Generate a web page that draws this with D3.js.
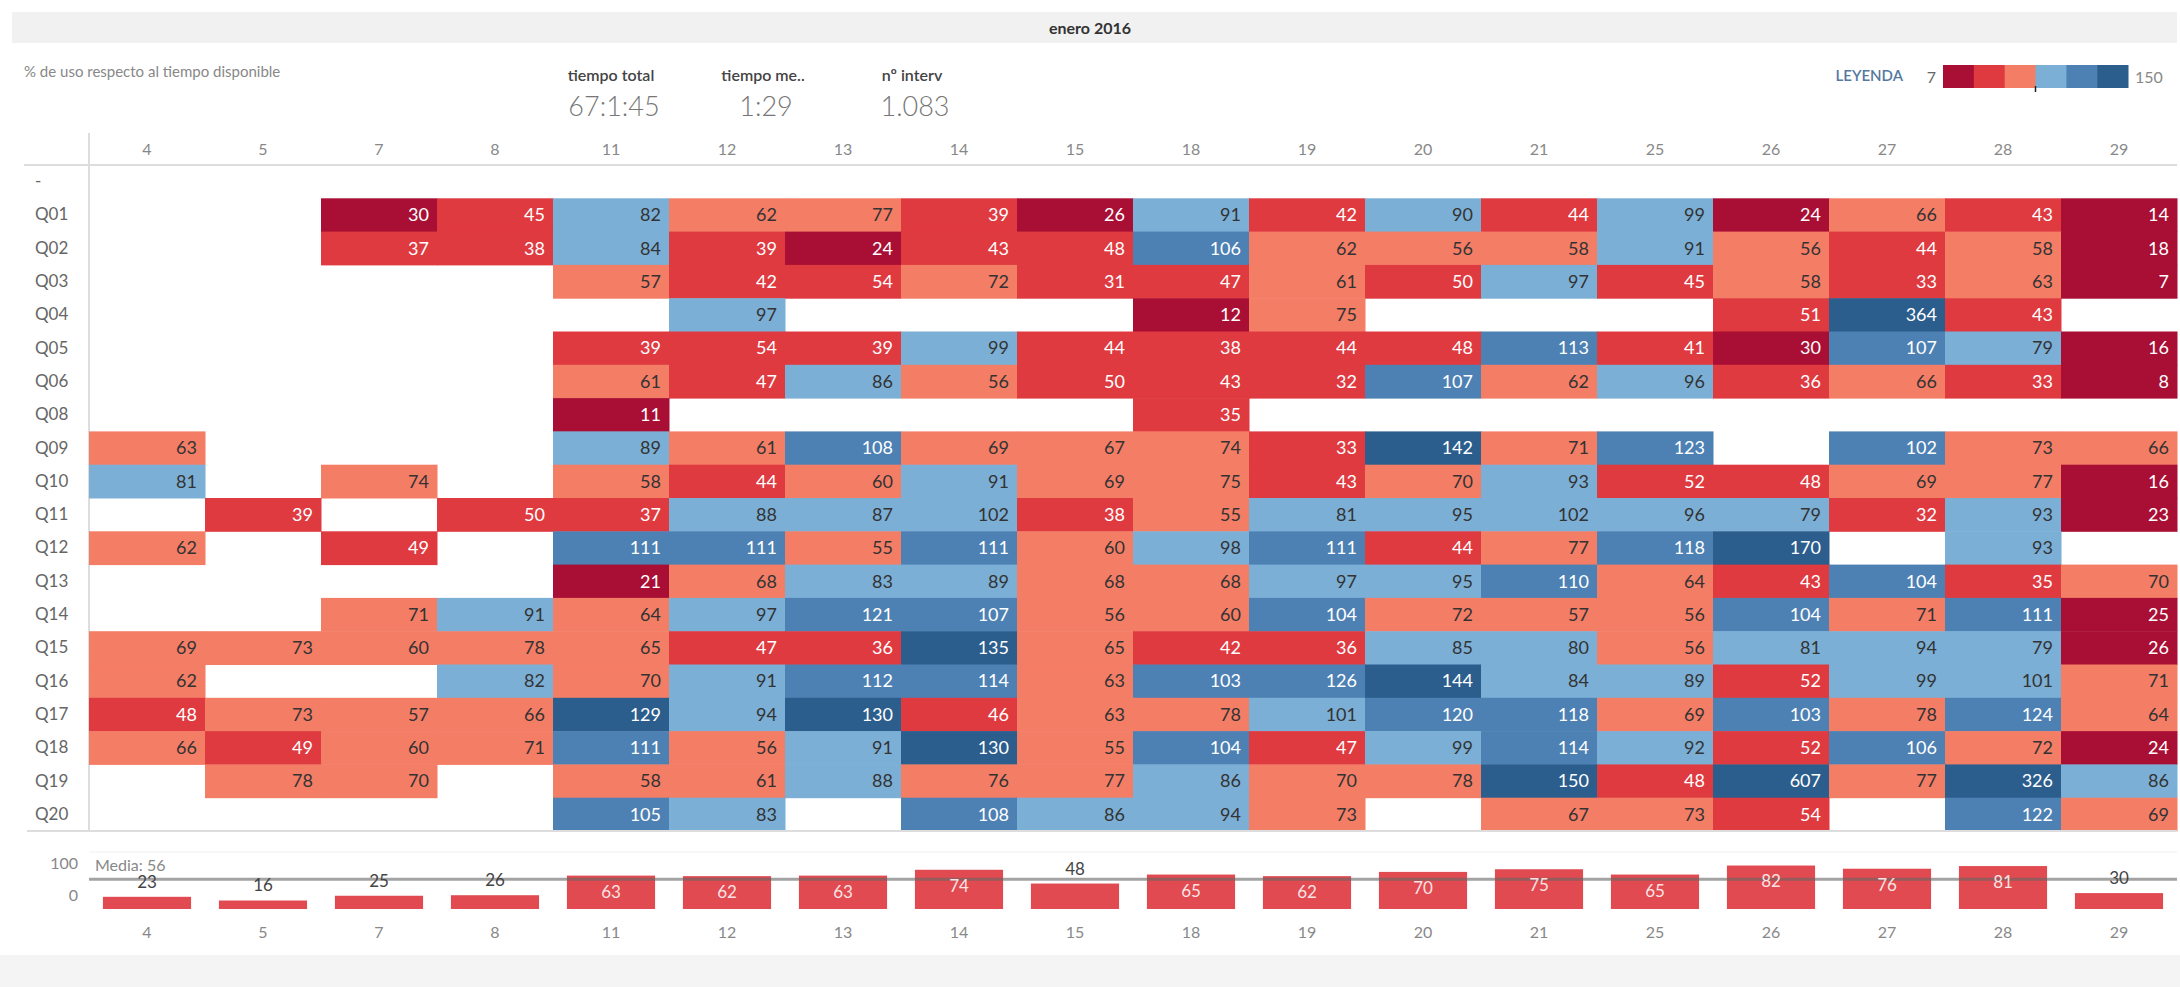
<!DOCTYPE html>
<html>
<head>
<meta charset="utf-8">
<script src="https://cdn.jsdelivr.net/npm/d3@7"></script>
<style>
  body { margin: 0; background: #fff; }
  svg { display: block; font-family: Lato, "Open Sans", sans-serif; }
  .axis path, .axis line { display: none; }
</style>
</head>
<body>
<svg id="chart" width="2180" height="987"></svg>
<script>
// columns (days of the month) and rows (questions)
const days = [4, 5, 7, 8, 11, 12, 13, 14, 15, 18, 19, 20, 21, 25, 26, 27, 28, 29];
const questions = ["-", "Q01", "Q02", "Q03", "Q04", "Q05", "Q06", "Q08", "Q09", "Q10",
  "Q11", "Q12", "Q13", "Q14", "Q15", "Q16", "Q17", "Q18", "Q19", "Q20"];

// % de uso per question and day (null = no data)
const rowDash = [];
const Q01 = [null, null, 30, 45, 82, 62, 77, 39, 26, 91, 42, 90, 44, 99, 24, 66, 43, 14];
const Q02 = [null, null, 37, 38, 84, 39, 24, 43, 48, 106, 62, 56, 58, 91, 56, 44, 58, 18];
const Q03 = [null, null, null, null, 57, 42, 54, 72, 31, 47, 61, 50, 97, 45, 58, 33, 63, 7];
const Q04 = [null, null, null, null, null, 97, null, null, null, 12, 75, null, null, null, 51, 364, 43, null];
const Q05 = [null, null, null, null, 39, 54, 39, 99, 44, 38, 44, 48, 113, 41, 30, 107, 79, 16];
const Q06 = [null, null, null, null, 61, 47, 86, 56, 50, 43, 32, 107, 62, 96, 36, 66, 33, 8];
const Q08 = [null, null, null, null, 11, null, null, null, null, 35, null, null, null, null, null, null, null, null];
const Q09 = [63, null, null, null, 89, 61, 108, 69, 67, 74, 33, 142, 71, 123, null, 102.4, 73, 66];
const Q10 = [81, null, 74, null, 58, 44, 60, 91, 69, 75, 43, 70, 93, 52, 48, 69, 77, 16];
const Q11 = [null, 39, null, 50, 37, 88, 87, 102, 38, 55, 81, 95, 102, 96, 79, 32, 93, 23];
const Q12 = [62, null, 49, null, 111, 111, 55, 111, 60, 98, 111, 44, 77, 118, 170, null, 93, null];
const Q13 = [null, null, null, null, 21, 68, 83, 89, 68, 68, 97, 95, 110, 64, 43, 104, 35, 70];
const Q14 = [null, null, 71, 91, 64, 97, 121, 107, 56, 60, 104, 72, 57, 56, 104, 71, 111, 25];
const Q15 = [69, 73, 60, 78, 65, 47, 36, 135, 65, 42, 36, 85, 80, 56, 81, 94, 79, 26];
const Q16 = [62, null, null, 82, 70, 91, 112, 114, 63, 103, 126, 144, 84, 89, 52, 99, 101, 71];
const Q17 = [48, 73, 57, 66, 129, 94, 130, 46, 63, 78, 101, 120, 118, 69, 103, 78, 124, 64];
const Q18 = [66, 49, 60, 71, 111, 56, 91, 130, 55, 104, 47, 99, 114, 92, 52, 106, 72, 24];
const Q19 = [null, 78, 70, null, 58, 61, 88, 76, 77, 86, 70, 78, 150, 48, 607, 77, 326, 86];
const Q20 = [null, null, null, null, 105, 83, null, 108, 86, 94, 73, null, 67, 73, 54, null, 122, 69];

// daily average (bottom bars) and its mean
const dailyAvg = [23, 16, 25, 26, 63, 62, 63, 74, 48, 65, 62, 70, 75, 65, 82, 76, 81, 30];
const mediaValue = 56;
const barTicks = [0, 100];

// header figures
const kpiLabels = ["tiempo total", "tiempo me..", "nº interv"];
const kpiValues = ["67:1:45", "1:29", "1.083"];

// stepped diverging legend
const legendDomain = [7, 150];
const stepColors = ["#a90f35", "#df3a40", "#f47d66", "#7bafd6", "#4d81b4", "#2b5d8d"];

const rowsByName = { "-": rowDash, Q01, Q02, Q03, Q04, Q05, Q06, Q08, Q09, Q10, Q11, Q12,
  Q13, Q14, Q15, Q16, Q17, Q18, Q19, Q20 };

const cells = [];
questions.forEach((q) => {
  days.forEach((d, i) => {
    const v = rowsByName[q][i];
    if (v != null) cells.push({ q: q, day: d, value: v });
  });
});

const svg = d3.select("#chart");

// scales
const x = d3.scaleBand().domain(days).range([89, 2177]);
const y = d3.scaleBand().domain(questions).range([165, 831]);
const color = d3.scaleQuantize().domain(legendDomain).range(stepColors);
const lightSteps = [stepColors[2], stepColors[3]];

// title band
svg.append("rect").attr("x", 12).attr("y", 12).attr("width", 2165).attr("height", 31).attr("fill", "#f1f1f1");
svg.append("text").attr("x", 1090).attr("y", 28).attr("dy", "0.35em")
  .attr("text-anchor", "middle").attr("font-weight", "bold").attr("font-size", 16)
  .attr("fill", "#333").text("enero 2016");

svg.append("text").attr("x", 24).attr("y", 72).attr("dy", "0.35em")
  .attr("font-size", 15).attr("fill", "#888").text("% de uso respecto al tiempo disponible");

// KPI block
const kpiCenters = [611, 763, 912];
kpiLabels.forEach((k, i) => {
  svg.append("text").attr("x", kpiCenters[i]).attr("y", 75).attr("dy", "0.35em")
    .attr("text-anchor", "middle").attr("font-size", 16).attr("font-weight", 600)
    .attr("fill", "#444").text(k);
  svg.append("text").attr("x", kpiCenters[i] + 3).attr("y", 107).attr("dy", "0.35em")
    .attr("text-anchor", "middle").attr("font-size", 27).attr("font-weight", 300)
    .attr("fill", "#777").text(kpiValues[i]);
});

// legend
const legX = d3.scaleBand().domain(stepColors).range([1943, 2128]);
svg.append("text").attr("x", 1903).attr("y", 76).attr("dy", "0.35em")
  .attr("text-anchor", "end").attr("font-size", 15).attr("font-weight", 600)
  .attr("fill", "#5577a0").text("LEYENDA");
svg.append("g").selectAll("rect").data(stepColors).join("rect")
  .attr("x", (c) => legX(c)).attr("y", 65)
  .attr("width", legX.bandwidth() + 0.5).attr("height", 23).attr("fill", (c) => c);
svg.append("line").attr("x1", legX(stepColors[3])).attr("x2", legX(stepColors[3]))
  .attr("y1", 86).attr("y2", 92).attr("stroke", "#222").attr("stroke-width", 1.5);
svg.append("text").attr("x", 1936).attr("y", 77).attr("dy", "0.35em")
  .attr("text-anchor", "end").attr("font-size", 16).attr("fill", "#666").text(legendDomain[0]);
svg.append("text").attr("x", 2135).attr("y", 77).attr("dy", "0.35em")
  .attr("font-size", 16).attr("fill", "#888").text(legendDomain[1]);

// grid lines
svg.append("line").attr("x1", 24).attr("x2", 2177).attr("y1", 165).attr("y2", 165)
  .attr("stroke", "#ddd").attr("stroke-width", 2);
svg.append("line").attr("x1", 89).attr("x2", 89).attr("y1", 133).attr("y2", 831)
  .attr("stroke", "#ddd").attr("stroke-width", 2);

// column header
svg.append("g").attr("class", "axis").attr("transform", "translate(0,149)")
  .call(d3.axisTop(x).tickSize(0))
  .selectAll("text").attr("y", 0).attr("dy", "0.35em")
  .attr("font-size", 16).attr("font-family", "Lato, sans-serif").attr("fill", "#888");

// row labels
svg.append("g").attr("class", "axis").attr("transform", "translate(35,0)")
  .call(d3.axisLeft(y).tickSize(0))
  .selectAll("text").attr("x", 0).attr("text-anchor", "start")
  .attr("font-size", 17).attr("font-family", "Lato, sans-serif").attr("fill", "#666");

// heatmap cells
const cellG = svg.append("g");
cellG.selectAll("rect").data(cells).join("rect")
  .attr("x", (d) => x(d.day)).attr("y", (d) => y(d.q))
  .attr("width", x.bandwidth() + 0.5).attr("height", y.bandwidth() + 0.5)
  .attr("fill", (d) => color(d.value));
cellG.selectAll("text").data(cells).join("text")
  .attr("x", (d) => x(d.day) + x.bandwidth() - 8)
  .attr("y", (d) => y(d.q) + y.bandwidth() / 2).attr("dy", "0.35em")
  .attr("text-anchor", "end").attr("font-size", 18)
  .attr("fill", (d) => lightSteps.includes(color(d.value)) ? "#333" : "#fff")
  .text((d) => Math.round(d.value));

svg.append("line").attr("x1", 27).attr("x2", 2177).attr("y1", 831).attr("y2", 831)
  .attr("stroke", "#ddd").attr("stroke-width", 2);

// bottom bar chart
const yBar = d3.scaleLinear().domain([0, 100]).range([909, 856]);
const yTick = d3.scaleLinear().domain([0, 100]).range([895, 863]);
const xBar = d3.scaleBand().domain(days).range([89, 2177]).paddingInner(0.24).paddingOuter(0.12);

svg.append("line").attr("x1", 89).attr("x2", 2177).attr("y1", 852).attr("y2", 852)
  .attr("stroke", "#f0f0f0").attr("stroke-width", 1);

svg.append("g").attr("class", "axis").attr("transform", "translate(78,0)")
  .call(d3.axisLeft(yTick).tickValues(barTicks).tickSize(0))
  .selectAll("text").attr("x", 0).attr("font-size", 16)
  .attr("font-family", "Lato, sans-serif").attr("fill", "#888");

const bars = days.map((d, i) => ({ day: d, value: dailyAvg[i] }));
svg.append("g").selectAll("rect").data(bars).join("rect")
  .attr("x", (d) => xBar(d.day)).attr("width", xBar.bandwidth())
  .attr("y", (d) => yBar(d.value)).attr("height", (d) => yBar(0) - yBar(d.value))
  .attr("fill", "#e04a50");

// mean reference line
svg.append("line").attr("x1", 89).attr("x2", 2177)
  .attr("y1", yBar(mediaValue)).attr("y2", yBar(mediaValue))
  .attr("stroke", "#666").attr("stroke-opacity", 0.6).attr("stroke-width", 3);
svg.append("text").attr("x", 95).attr("y", 865).attr("dy", "0.35em")
  .attr("font-size", 16).attr("fill", "#888").text("Media: " + mediaValue);

svg.append("g").selectAll("text").data(bars).join("text")
  .attr("x", (d) => xBar(d.day) + xBar.bandwidth() / 2)
  .attr("y", (d) => d.value >= 55 ? yBar(d.value) + 16 : yBar(d.value) - 15)
  .attr("dy", "0.35em").attr("text-anchor", "middle").attr("font-size", 17)
  .attr("fill", (d) => d.value >= 55 ? "#fbe3e3" : "#444")
  .text((d) => d.value);

svg.append("g").attr("class", "axis").attr("transform", "translate(0,932)")
  .call(d3.axisBottom(x).tickSize(0))
  .selectAll("text").attr("y", 0).attr("dy", "0.35em")
  .attr("font-size", 16).attr("font-family", "Lato, sans-serif").attr("fill", "#888");

// bottom grey band
svg.append("rect").attr("x", 0).attr("y", 955).attr("width", 2180).attr("height", 32).attr("fill", "#f4f4f4");
</script>
</body>
</html>
